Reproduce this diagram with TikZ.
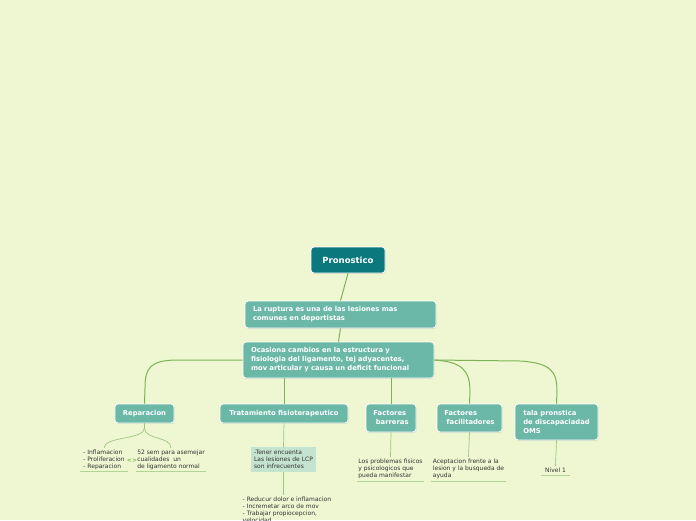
\documentclass[tikz,border=0pt]{standalone}
\usepackage{fontspec}
\setmainfont{DejaVu Sans}
\usetikzlibrary{positioning,calc,shadows}
\definecolor{mmback}{HTML}{EEF7D1}
\definecolor{mmteal}{HTML}{0B787E}
\definecolor{mmnode}{HTML}{6BB8A7}
\definecolor{mmline}{HTML}{7DB357}
\definecolor{mmleaf}{HTML}{B2D596}
\definecolor{mmnote}{HTML}{C5E4CF}
\definecolor{mmtext}{HTML}{333333}

\begin{document}
\begin{tikzpicture}[x=1pt, y=-1pt,
  rootnode/.style={draw=white, line width=0.8pt, rounded corners=3pt, fill=mmteal,
               minimum height=26pt, minimum width=74pt, text=white,
               font=\fontsize{8.5}{9}\selectfont\bfseries,
               drop shadow={shadow xshift=0.6pt, shadow yshift=-0.9pt, opacity=0.25}},
  topic/.style={draw=white, line width=0.8pt, rounded corners=3pt, fill=mmnode,
               text=white, align=left, inner xsep=8pt, inner ysep=3pt,
               font=\fontsize{6.8}{9}\selectfont\bfseries,
               drop shadow={shadow xshift=0.6pt, shadow yshift=-0.9pt, opacity=0.25}},
  note/.style={fill=mmnote, text=mmtext, align=left, inner xsep=3pt, inner ysep=3pt,
               font=\fontsize{6}{6.8}\selectfont},
  leaf/.style={text=mmtext, align=left, inner xsep=0pt, inner ysep=2pt,
               font=\fontsize{6}{6.8}\selectfont},
  edge/.style={mmline, line width=1pt},
  twig/.style={mmline!75, line width=0.7pt},
  under/.style={mmleaf, line width=0.9pt},
]
\useasboundingbox[fill=mmback] (0,0) rectangle (696,520);

\node[rootnode] (pron) at (348,260) {Pronostico};

\node[topic, text width=175pt, minimum height=27pt] (rupt) at (340.5,314.5)
  {La ruptura es una de las lesiones mas\\comunes en deportistas};
\node[topic, text width=175pt, minimum height=36pt] (ocas) at (338.5,360)
  {Ocasiona cambios en la estructura y\\fisiologia del ligamento, tej adyacentes,\\mov articular y causa un deficit funcional};

% second level
\node[topic, minimum width=59pt, minimum height=19pt] (rep) at (144.5,413.5) {Reparacion};
\node[topic, minimum width=128pt, minimum height=19pt] (trat) at (284,413.5) {Tratamiento fisioterapeutico};
\node[topic, minimum width=50pt, minimum height=28pt, inner xsep=4pt] (barr) at (391,418) {Factores\\\ barreras};
\node[topic, minimum width=65pt, minimum height=28pt, inner xsep=4pt] (faci) at (469.5,418) {Factores\\\ facilitadores};
\node[topic, minimum width=83pt, minimum height=36pt, inner xsep=4pt] (tala) at (556.5,422) {tala pronstica\\de discapaciadad\\OMS};

% leaves
\node[leaf, minimum width=48pt] (inf) at (104,460) {- Inflamacion\\- Proliferacion\\- Reparacion};
\node[leaf, minimum width=70pt] (sem) at (171,460) {52 sem para asemejar\\cualidades\ \ un\\de ligamento normal};
\node[font=\fontsize{6}{7}\selectfont\bfseries, text=mmline, inner sep=0pt] (rel) at (132,461) {<>};
\node[note, minimum width=63pt] (tener) at (283.5,459.5) {-Tener encuenta\\Las lesiones de LCP\\son infrecuentes};
\node[leaf, anchor=north west] (redu) at (242.5,495)
  {- Reducur dolor e inflamacion\\- Incremetar arco de mov\\- Trabajar propiocepcion,\\velocidad};
\node[leaf, minimum width=67pt, font=\fontsize{6}{7}\selectfont] (barrtxt) at (390.5,469)
  {Los problemas fisicos\\y psicologicos que\\pueda manifestar};
\node[leaf, minimum width=75pt, font=\fontsize{6}{7}\selectfont] (facitxt) at (468.5,469)
  {Aceptacion frente a la\\lesion y la busqueda de\\ayuda};
\node[leaf, minimum width=29pt, align=center] (niv) at (555.5,470.5) {Nivel 1};

\foreach \n in {inf,sem,barrtxt,facitxt,niv}
  \draw[under] (\n.south west) -- (\n.south east);

% connectors
\draw[edge] (pron.south) -- (rupt.north);
\draw[edge] (rupt.south) -- (ocas.north);
\draw[edge] (ocas.west) -- (178,360) .. controls (150,360) and (145,368) .. (145,388) -- (rep.north);
\draw[edge] (trat.north |- ocas.south) -- (trat.north);
\draw[edge] (barr.north |- ocas.south) -- (barr.north);
\draw[edge] (ocas.east) .. controls (462,362) and (470,370) .. (470,392) -- (faci.north);
\draw[edge] (ocas.east) -- (520,361) .. controls (552,363) and (557,372) .. (557,392) -- (tala.north);

\draw[twig] (rep.south) -- (144.5,428) .. controls (144.5,440) and (104,436) .. (inf.north);
\draw[twig] (rep.south) -- (144.5,428) .. controls (144.5,440) and (171,436) .. (sem.north);
\draw[twig] (trat.south) -- (tener.north);
\draw[twig] (tener.south) -- (redu.north -| tener.south);
\draw[twig] (barr.south) -- (barrtxt.north);
\draw[twig] (faci.south) -- (facitxt.north);
\draw[twig] (tala.south) -- (niv.north);

\end{tikzpicture}
\end{document}
